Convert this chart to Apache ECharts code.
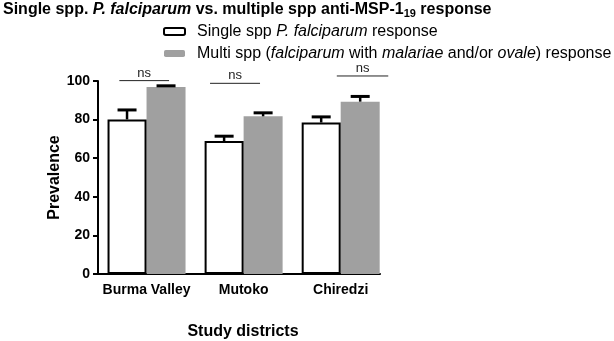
<!DOCTYPE html>
<html>
<head>
<meta charset="utf-8">
<script src="https://cdn.jsdelivr.net/npm/echarts@6/dist/echarts.min.js"></script>
<style>
html, body { margin: 0; padding: 0; background: #fff; }
#chart { width: 614px; height: 341px; }
</style>
</head>
<body>
<div id="chart"></div>
<script>
// districts along the x axis
const districts = ['Burma Valley', 'Mutoko', 'Chiredzi'];

// prevalence (%) and top of the error bar for each group
const singleMean = [80.1, 68.9, 78.5];
const singleUpper = [85.0, 71.4, 81.4];
const multiMean = [96.9, 81.7, 89.3];
const multiUpper = [97.5, 83.5, 92.0];

// "ns" comparison brackets: start / end along the district axis, height in %
const nsStart = [-0.28, 0.654, 1.96];
const nsEnd = [0.232, 1.169, 2.49];
const nsLevel = [100.2, 98.8, 102.6];

// y axis range
const yMin = 0;
const yMax = 100;
const yStep = 20;

const FONT = '"Liberation Sans", Arial, sans-serif';
const BAR_W = 39;

const chart = echarts.init(document.getElementById('chart'), null, { renderer: 'canvas' });

// upward-only error bar with a cap, side = -1 for left bar, +1 for right bar
const errorBars = (mean, upper, side) => ({
	type: 'custom',
	silent: true,
	z: 4,
	data: districts.map((d, i) => [i, mean[i], upper[i]]),
	renderItem: (params, api) => {
		const base = api.coord([api.value(0), api.value(1)]);
		const top = api.coord([api.value(0), api.value(2)]);
		const cx = base[0] + side * BAR_W / 2;
		return {
			type: 'group',
			children: [
				{ type: 'line', shape: { x1: cx, y1: base[1], x2: cx, y2: top[1] }, style: { stroke: '#000', lineWidth: 2.5 } },
				{ type: 'line', shape: { x1: cx - 9.5, y1: top[1], x2: cx + 9.5, y2: top[1] }, style: { stroke: '#000', lineWidth: 3 } },
			],
		};
	},
});

chart.setOption({
	animation: false,
	textStyle: { fontFamily: FONT },
	title: {
		text: '{b|Single spp. }{bi|P. falciparum}{b| vs. multiple spp anti-MSP-1}{sub|19}{b| response}',
		left: 3,
		top: 1,
		padding: 0,
		textStyle: {
			rich: {
				b: { fontFamily: FONT, fontSize: 16, fontWeight: 'bold', color: '#000' },
				bi: { fontFamily: FONT, fontSize: 16, fontWeight: 'bold', fontStyle: 'italic', color: '#000' },
				sub: { fontFamily: FONT, fontSize: 11, fontWeight: 'bold', color: '#000', padding: [7, 0, 0, 0] },
			},
		},
	},
	legend: {
		data: ['single', 'multi'],
		orient: 'vertical',
		left: 163,
		top: 23.5,
		padding: 0,
		itemWidth: 21,
		itemHeight: 7,
		itemGap: 6,
		formatter: (name) => name === 'single'
			? '{sp|}Single spp {i|P. falciparum} response'
			: '{sp|}Multi spp ({i|falciparum} with {i|malariae} and/or {i|ovale}) response',
		textStyle: {
			fontFamily: FONT,
			fontSize: 16,
			color: '#000',
			rich: {
				sp: { width: 7 },
				i: { fontFamily: FONT, fontSize: 16, fontStyle: 'italic', color: '#000' },
			},
		},
	},
	grid: { left: 98, right: 234, top: 81, bottom: 67, containLabel: false, outerBoundsMode: 'none' },
	xAxis: {
		type: 'value',
		min: -0.5,
		max: 2.405,
		name: 'Study districts',
		nameLocation: 'middle',
		nameGap: 50,
		nameTextStyle: { fontFamily: FONT, fontSize: 16, fontWeight: 'bold', color: '#000', padding: [0, 0, 0, 8] },
		axisLine: { lineStyle: { color: '#000', width: 2 } },
		axisTick: { show: false },
		splitLine: { show: false },
		axisLabel: {
			customValues: [0, 1, 2],
			formatter: (v) => districts[v],
			fontFamily: FONT,
			fontSize: 14,
			fontWeight: 'bold',
			color: '#000',
			margin: 9,
		},
	},
	yAxis: {
		type: 'value',
		min: yMin,
		max: yMax,
		interval: yStep,
		name: 'Prevalence',
		nameLocation: 'middle',
		nameRotate: 90,
		nameGap: 32,
		nameTextStyle: { fontFamily: FONT, fontSize: 16, fontWeight: 'bold', color: '#000' },
		axisLine: { show: true, onZero: false, lineStyle: { color: '#000', width: 2 } },
		axisTick: { show: true, length: 5, lineStyle: { color: '#000', width: 2 } },
		splitLine: { show: false },
		axisLabel: { fontFamily: FONT, fontSize: 14, fontWeight: 'bold', color: '#000', margin: 8 },
	},
	series: [
		{
			name: 'single',
			type: 'bar',
			z: 3,
			barWidth: BAR_W,
			barGap: '0%',
			data: districts.map((d, i) => [i, singleMean[i]]),
			itemStyle: { color: '#fff', borderColor: '#000', borderWidth: 2 },
		},
		{
			name: 'multi',
			type: 'bar',
			z: 2,
			barWidth: BAR_W,
			barGap: '0%',
			data: districts.map((d, i) => [i, multiMean[i]]),
			itemStyle: { color: '#a0a0a0' },
		},
		errorBars(singleMean, singleUpper, -1),
		errorBars(multiMean, multiUpper, 1),
		// "ns" brackets above each pair
		{
			type: 'custom',
			silent: true,
			clip: false,
			z: 5,
			data: districts.map((d, i) => [nsStart[i], nsEnd[i], nsLevel[i]]),
			renderItem: (params, api) => {
				const a = api.coord([api.value(0), api.value(2)]);
				const b = api.coord([api.value(1), api.value(2)]);
				return {
					type: 'group',
					children: [
						{ type: 'line', shape: { x1: a[0], y1: a[1], x2: b[0], y2: b[1] }, style: { stroke: '#222', lineWidth: 1 } },
						{
							type: 'text',
							x: (a[0] + b[0]) / 2,
							y: a[1] - 1,
							style: { text: 'ns', fill: '#222', font: '13px ' + FONT, align: 'center', verticalAlign: 'bottom' },
						},
					],
				};
			},
		},
	],
});
</script>
</body>
</html>
